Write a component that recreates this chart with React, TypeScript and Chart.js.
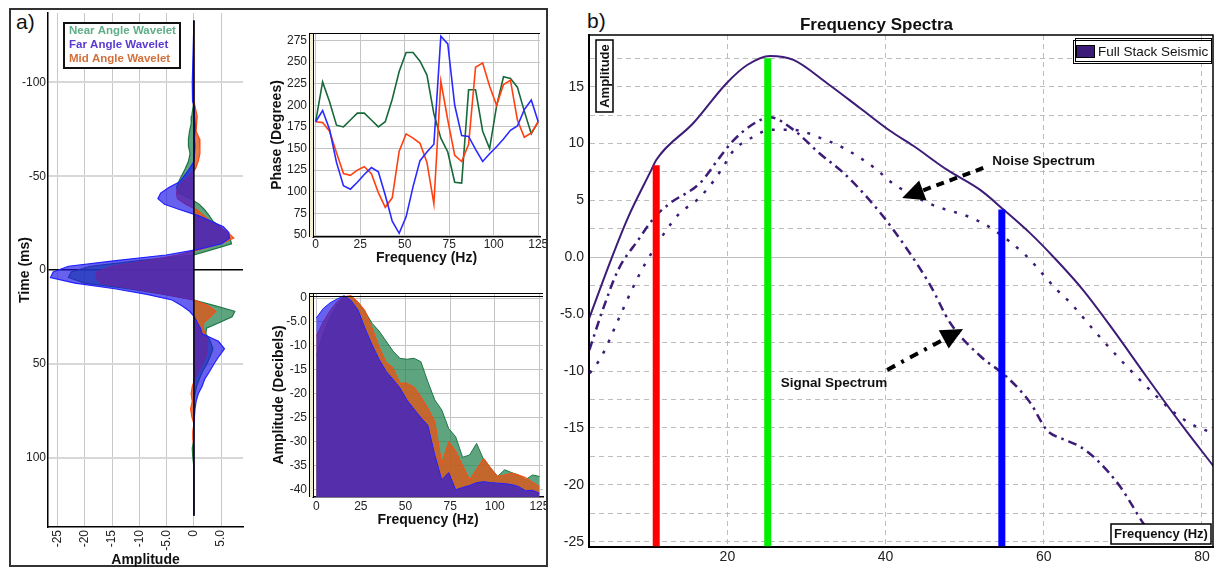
import React, { useEffect, useRef } from 'react';
import { Chart, registerables } from 'chart.js';

Chart.register(...registerables);

const FONT = '"Liberation Sans", Arial, Helvetica, sans-serif';

// ---------- a) wavelets (time in ms, amplitude) ----------
const WAVELET_TIME = [-133, -100, -95, -90, -86, -82, -78, -74, -70, -66, -62, -58, -54, -50, -47, -44, -41, -38, -35, -32, -29, -26, -23, -20, -17, -14, -11, -8, -5, -2, 1, 4, 7, 10, 13, 16, 19, 22, 25, 28, 31, 34, 38, 42, 46, 50, 54, 58, 62, 66, 70, 74, 78, 82, 86, 90, 95, 100, 105, 131];
const NEAR_WAVELET = [0, 0, 0, 0, -0.2, -0.4, -0.5, -0.8, -1.0, -1.0, -0.7, -1.0, -1.6, -2.3, -2.8, -3.2, -2.8, -0.6, 1.0, 2.0, 2.8, 3.5, 4.8, 5.8, 6.6, 6.9, 3.5, 0, -10, -19, -22.5, -23, -20, -12, -5.5, 0, 3.8, 7.5, 7.0, 4.7, 2.3, 2.2, 3.0, 3.5, 3.0, 2.4, 1.6, 1.0, 0.5, 0.2, 0, 0, 0, 0, 0, 0, -0.3, -0.2, 0, 0];
const FAR_WAVELET = [0, -0.3, -0.3, -0.2, 0.1, 0.1, 0.2, 0.2, 0.1, 0.2, 0.1, 0, -0.8, -1.8, -2.6, -4.6, -6.1, -6.6, -5.4, -2.4, 0.8, 3.2, 5.4, 6.4, 6.5, 5.1, 0.8, -5.1, -14.3, -23, -25.8, -26.3, -21.8, -14.5, -8.6, -4.0, -2.2, -0.8, 0.1, 0.6, 1.2, 1.5, 4.5, 5.6, 4.6, 3.7, 2.9, 2.0, 1.5, 0.8, 0.4, 0.2, 0.1, 0, 0, 0, 0, 0, 0, 0];
const MID_WAVELET = [0, 0, 0, 0, 0.3, 0.6, 0.5, 0.4, 1.0, 1.1, 1.1, 0.8, 0.3, -0.8, -2.0, -3.0, -3.2, -3.0, -1.5, 0.6, 1.8, 3.0, 4.6, 6.2, 7.3, 4.9, 1.2, -3, -8.5, -15, -17.8, -18, -17, -11, -5, 0, 2.5, 4.0, 3.0, 1.8, 1.7, 2.0, 2.5, 2.5, 2.2, 1.6, 0.8, 0.2, -0.3, -0.5, -0.3, -0.6, -0.4, 0, -0.2, -0.2, 0, 0, 0, 0];
const ZERO_LINE_TIME = [-133, 131];
const WAVELET_LEGEND = ['Near Angle Wavelet', 'Far Angle Wavelet', 'Mid Angle Wavelet'];

// ---------- a) phase and amplitude spectra ----------
const FREQ = [0, 3.9, 7.8, 11.7, 15.6, 19.5, 23.4, 27.3, 31.3, 35.2, 39.1, 43.0, 46.9, 50.8, 54.7, 58.6, 62.5, 66.4, 70.3, 74.2, 78.1, 82.0, 85.9, 89.8, 93.8, 97.7, 101.6, 105.5, 109.4, 113.3, 117.2, 121.1, 125.0];
const NEAR_PHASE = [181, 227, 204, 177, 175, 183, 191, 191, 183, 175, 181, 207, 239, 261, 261, 251, 235, 190, 162, 146, 111, 110, 218, 218, 170, 150, 199, 233, 231, 221, 193, 167, 181];
const MID_PHASE = [181, 180, 170, 145, 121, 119, 125, 129, 121, 99, 82, 93, 147, 167, 162, 156, 134, 86, 228, 183, 142, 135, 155, 244, 249, 222, 200, 224, 229, 183, 163, 168, 181];
const FAR_PHASE = [181, 194, 172, 134, 107, 103, 111, 120, 128, 123, 96, 66, 52, 71, 106, 136, 146, 155, 280, 271, 200, 165, 164, 149, 135, 144, 152, 161, 171, 176, 195, 206, 181];
const NEAR_DB = [-12.0, -7.5, -4.0, -1.5, 0.2, 0.3, -1.0, -2.8, -5.3, -6.9, -9.0, -11.1, -12.6, -12.8, -12.6, -13.3, -17.5, -21.3, -23.4, -27.3, -29.0, -33.3, -32.8, -30.4, -33.8, -35.6, -37.3, -35.9, -36.5, -37.0, -38.0, -37.0, -37.3];
const MID_DB = [-8.0, -5.0, -2.6, -0.8, 0.3, 0.5, -0.8, -2.6, -6.3, -10.2, -13.4, -14.6, -17.8, -17.8, -18.6, -20.6, -23.0, -25.8, -34.6, -30.0, -32.0, -35.0, -38.0, -35.8, -33.5, -35.5, -37.3, -37.0, -36.6, -37.0, -37.5, -38.5, -39.4];
const FAR_DB = [-4.2, -2.2, -1.0, -0.2, 0.5, -0.5, -2.5, -6.3, -9.8, -12.8, -15.3, -17.0, -18.8, -21.3, -23.2, -25.0, -26.6, -32.8, -38.0, -36.5, -40.1, -39.6, -39.2, -38.6, -38.4, -38.6, -38.7, -38.8, -39.0, -39.4, -40.3, -40.2, -40.8];

// ---------- b) frequency spectra ----------
const FULL_FREQ = [2.5, 5.4, 7.5, 10.4, 11.0, 15.7, 19.9, 22.5, 25.4, 28.35, 32.6, 36.8, 40.6, 43.5, 47.75, 52.0, 54.9, 58.3, 61.2, 65.0, 68.8, 73.0, 77.3, 81.5];
const FULL_AMP = [-5.4, 0.0, 3.6, 7.7, 8.55, 11.8, 15.3, 16.9, 17.7, 17.35, 15.3, 13.1, 11.1, 9.8, 7.7, 5.9, 4.2, 2.1, 0.05, -2.9, -6.4, -10.5, -14.6, -18.4];
const SIGNAL_FREQ = [2.55, 4.1, 6.2, 8.7, 10.85, 12.75, 16.5, 19.1, 20.8, 23.7, 25.4, 28.35, 31.7, 34.7, 38.0, 41.0, 45.6, 48.2, 52.0, 55.3, 58.3, 60.4, 62.5, 64.6, 66.7, 69.7, 72.6, 75.4];
const SIGNAL_AMP = [-8.15, -4.9, -1.1, 1.5, 3.57, 4.75, 6.5, 8.85, 10.3, 11.9, 12.3, 11.2, 9.1, 7.4, 5.0, 2.4, -2.4, -5.8, -8.7, -10.5, -12.8, -15.2, -16.0, -16.65, -17.8, -20.2, -23.4, -26.0];
const NOISE_FREQ = [2.6, 4.1, 6.2, 8.3, 9.5, 12.3, 14.0, 16.1, 18.2, 19.5, 20.8, 23.3, 25.4, 28.35, 31.7, 34.7, 38.9, 40.6, 45.6, 51.1, 53.7, 57.9, 59.6, 61.7, 63.35, 66.7, 70.5, 74.3, 76.4, 78.5, 81.5];
const NOISE_AMP = [-10.2, -8.7, -5.5, -2.3, -0.7, 2.4, 3.9, 5.0, 6.65, 8.0, 9.4, 10.6, 11.2, 11.2, 10.5, 9.6, 7.7, 6.65, 4.7, 3.4, 2.4, 0.05, -1.26, -2.9, -4.0, -6.7, -9.6, -12.25, -13.6, -14.6, -15.5];
const BAR_FREQ = [11.0, 25.1, 54.7];
const BAR_TOP = [8.1, 17.5, 4.2];
const BAR_BASE = -26;
const BAR_COLORS = ['#ff0000', '#00ee00', '#0000ff'];
const SPECTRA_LABELS = ['Full Stack Seismic', 'Signal Spectrum', 'Noise Spectrum'];
// annotation anchors in data units (frequency, amplitude)
const NOISE_ARROW = { from: [52.35, 7.85], to: [42.1, 5.2], text: [53.5, 8.4] };
const SIGNAL_ARROW = { from: [40.2, -9.9], to: [49.8, -6.3], text: [40.2, -11.1] };

// colours
const NEAR_LINE = '#1e7544';
const NEAR_FILL = 'rgba(40,134,84,0.75)';
const MID_LINE = '#ff4a10';
const MID_FILL = 'rgba(226,86,24,0.78)';
const FAR_LINE = '#2020ff';
const FAR_FILL = 'rgba(32,22,232,0.68)';
const LEGEND_COLORS = ['#5fae88', '#5a3ad0', '#d2703c'];
const SPECTRA_COLOR = '#3d1c78';

const tickFont = (size: number) => ({ family: FONT, size });
const titleFont = (size: number) => ({ family: FONT, size, weight: 'bold' as const });

const fitX = (h: number) => (s: any) => { s.height = h; s.paddingLeft = 0; s.paddingRight = 0; };
const fitY = (w: number) => (s: any) => { s.width = w; s.paddingTop = 0; s.paddingBottom = 0; };

function ChartBox({ x, y, w, h, make }: { x: number; y: number; w: number; h: number; make: () => any }) {
  const ref = useRef<HTMLCanvasElement>(null);
  useEffect(() => {
    const chart = new Chart(ref.current as HTMLCanvasElement, make());
    return () => chart.destroy();
  }, []);
  return <canvas ref={ref} width={w} height={h} style={{ position: 'absolute', left: x, top: y, width: w, height: h }} />;
}

const waveletLegend = {
  id: 'waveletLegend',
  afterDraw(chart: any) {
    const { ctx, chartArea: a } = chart;
    const bx = a.left + 16, by = a.top + 10, bw = 116, bh = 45;
    ctx.save();
    ctx.fillStyle = '#fff';
    ctx.fillRect(bx, by, bw, bh);
    ctx.strokeStyle = '#111';
    ctx.lineWidth = 2;
    ctx.strokeRect(bx, by, bw, bh);
    ctx.font = `bold 11.5px ${FONT}`;
    ctx.textBaseline = 'middle';
    WAVELET_LEGEND.forEach((t, i) => {
      ctx.fillStyle = LEGEND_COLORS[i];
      ctx.fillText(t, bx + 5, by + 8 + i * 14);
    });
    ctx.restore();
  },
};

const leftDouble = (offsets: number[]) => ({
  id: 'leftDouble',
  afterDraw(chart: any) {
    const { ctx, chartArea: a } = chart;
    ctx.save();
    ctx.fillStyle = '#f3f0d2';
    ctx.fillRect(a.left - 3, a.top, 3, a.bottom - a.top);
    ctx.strokeStyle = '#000';
    ctx.lineWidth = 1;
    ctx.beginPath();
    ctx.moveTo(a.left - 3.5, a.top);
    ctx.lineTo(a.left - 3.5, a.bottom);
    ctx.stroke();
    offsets.forEach((o) => {
      ctx.beginPath();
      ctx.moveTo(a.left - 4, a.top + o + 0.5);
      ctx.lineTo(a.right, a.top + o + 0.5);
      ctx.stroke();
    });
    ctx.restore();
  },
});

function waveletConfig() {
  const pts = (vals: number[]) => WAVELET_TIME.map((t, i) => ({ x: vals[i], y: t }));
  return {
    type: 'line',
    data: {
      datasets: [
        { label: 'zero', data: ZERO_LINE_TIME.map((t) => ({ x: 0, y: t })), borderColor: '#000', borderWidth: 1.5, pointRadius: 0, fill: false, order: 0 },
        { label: WAVELET_LEGEND[1], data: pts(FAR_WAVELET), borderColor: FAR_LINE, backgroundColor: FAR_FILL, borderWidth: 1.2, pointRadius: 0, fill: 'origin', order: 1 },
        { label: WAVELET_LEGEND[2], data: pts(MID_WAVELET), borderColor: MID_LINE, backgroundColor: MID_FILL, borderWidth: 1.2, pointRadius: 0, fill: 'origin', order: 2 },
        { label: WAVELET_LEGEND[0], data: pts(NEAR_WAVELET), borderColor: NEAR_LINE, backgroundColor: NEAR_FILL, borderWidth: 1.2, pointRadius: 0, fill: 'origin', order: 3 },
      ],
    },
    options: {
      indexAxis: 'y',
      animation: false,
      responsive: false,
      events: [],
      layout: { padding: { left: 0, right: 17, top: 5, bottom: 0 } },
      plugins: { legend: { display: false }, tooltip: { enabled: false } },
      scales: {
        x: {
          type: 'linear', min: -26.75, max: 9,
          ticks: { stepSize: 5, includeBounds: false, autoSkip: false, minRotation: 90, maxRotation: 90, padding: 3, color: '#222', font: tickFont(12),
            callback: (v: number) => (Math.abs(v) === 5 ? v.toFixed(1) : String(v)) },
          grid: { color: '#c8c8c8', lineWidth: 1, drawTicks: false },
          border: { color: '#000', width: 1.5 },
          title: { display: true, text: 'Amplitude', color: '#111', font: titleFont(14), padding: { top: 0, bottom: 0 } },
          afterFit: fitX(42),
        },
        y: {
          type: 'linear', reverse: true, min: -137, max: 137,
          ticks: { stepSize: 50, includeBounds: false, padding: 2, color: '#222', font: tickFont(12) },
          grid: { color: (c: any) => (c.tick && c.tick.value === 0 ? '#000' : '#d8d8d8'), lineWidth: (c: any) => (c.tick && c.tick.value === 0 ? 1.5 : 2), drawTicks: false },
          border: { color: '#000', width: 1.5 },
          title: { display: true, text: 'Time (ms)', color: '#111', font: titleFont(14), padding: { top: 7, bottom: 0 } },
          afterFit: fitY(38),
        },
      },
    },
    plugins: [waveletLegend],
  };
}

function phaseConfig() {
  const pts = (vals: number[]) => FREQ.map((f, i) => ({ x: f, y: vals[i] }));
  const ds = (vals: number[], color: string) => ({ data: pts(vals), borderColor: color, borderWidth: 1.6, pointRadius: 0, fill: false, tension: 0 });
  return {
    type: 'line',
    data: { datasets: [ds(FAR_PHASE, '#2a2aff'), ds(MID_PHASE, '#ff4010'), ds(NEAR_PHASE, '#17693a')] },
    options: {
      animation: false, responsive: false, events: [],
      layout: { padding: { left: 0, right: 6, top: 8, bottom: 0 } },
      plugins: { legend: { display: false }, tooltip: { enabled: false } },
      scales: {
        x: {
          type: 'linear', min: -1.5, max: 126,
          ticks: { stepSize: 25, includeBounds: false, padding: 0, color: '#222', font: tickFont(12), maxRotation: 0 },
          grid: { color: '#c4c4c4', lineWidth: 1, drawTicks: false },
          border: { color: '#000', width: 1.5 },
          title: { display: true, text: 'Frequency (Hz)', color: '#111', font: titleFont(14), padding: { top: 0, bottom: 3 } },
          afterFit: fitX(33),
        },
        y: {
          type: 'linear', min: 47.7, max: 283.6,
          ticks: { stepSize: 25, includeBounds: false, padding: 6, color: '#222', font: tickFont(12) },
          grid: { color: '#c4c4c4', lineWidth: 1, drawTicks: false },
          border: { color: '#000', width: 1 },
          title: { display: true, text: 'Phase (Degrees)', color: '#111', font: titleFont(14), padding: { top: 7, bottom: 0 } },
          afterFit: fitY(51),
        },
      },
    },
    plugins: [leftDouble([0])],
  };
}

function ampConfig() {
  const pts = (vals: number[]) => FREQ.map((f, i) => ({ x: f, y: vals[i] }));
  return {
    type: 'line',
    data: {
      datasets: [
        { data: pts(FAR_DB), borderColor: FAR_LINE, backgroundColor: FAR_FILL, borderWidth: 1, pointRadius: 0, fill: 'start', order: 1 },
        { data: pts(MID_DB), borderColor: MID_LINE, backgroundColor: MID_FILL, borderWidth: 1, pointRadius: 0, fill: 'start', order: 2 },
        { data: pts(NEAR_DB), borderColor: NEAR_LINE, backgroundColor: NEAR_FILL, borderWidth: 1, pointRadius: 0, fill: 'start', order: 3 },
      ],
    },
    options: {
      animation: false, responsive: false, events: [],
      layout: { padding: { left: 0, right: 3, top: 8, bottom: 0 } },
      plugins: { legend: { display: false }, tooltip: { enabled: false } },
      scales: {
        x: {
          type: 'linear', min: -1.8, max: 127,
          ticks: { stepSize: 25, includeBounds: false, padding: 2, color: '#222', font: tickFont(12), maxRotation: 0 },
          grid: { color: '#c4c4c4', lineWidth: 1, drawTicks: false },
          border: { color: '#000', width: 1.5 },
          title: { display: true, text: 'Frequency (Hz)', color: '#111', font: titleFont(14), padding: { top: 0, bottom: 1 } },
          afterFit: fitX(33),
        },
        y: {
          type: 'linear', min: -41.6, max: 1.05,
          ticks: { stepSize: 5, includeBounds: false, padding: 6, color: '#222', font: tickFont(12),
            callback: (v: number) => (v === -5 ? '-5.0' : String(v)) },
          grid: { color: '#c4c4c4', lineWidth: 1, drawTicks: false },
          border: { color: '#000', width: 1 },
          title: { display: true, text: 'Amplitude (Decibels)', color: '#111', font: titleFont(14), padding: { top: 9, bottom: 0 } },
          afterFit: fitY(51),
        },
      },
    },
    plugins: [leftDouble([0, 3])],
  };
}

function drawArrow(ctx: CanvasRenderingContext2D, x1: number, y1: number, x2: number, y2: number, dash: number[]) {
  const ang = Math.atan2(y2 - y1, x2 - x1);
  const len = 22, half = 10.5;
  const bx = x2 - len * Math.cos(ang), by = y2 - len * Math.sin(ang);
  ctx.save();
  ctx.strokeStyle = '#000';
  ctx.fillStyle = '#000';
  ctx.lineWidth = 4;
  ctx.setLineDash(dash);
  ctx.beginPath();
  ctx.moveTo(x1, y1);
  ctx.lineTo(bx, by);
  ctx.stroke();
  ctx.setLineDash([]);
  ctx.beginPath();
  ctx.moveTo(x2, y2);
  ctx.lineTo(bx + half * Math.sin(ang), by - half * Math.cos(ang));
  ctx.lineTo(bx - half * Math.sin(ang), by + half * Math.cos(ang));
  ctx.closePath();
  ctx.fill();
  ctx.restore();
}

const spectraDecor = {
  id: 'spectraDecor',
  afterDraw(chart: any) {
    const { ctx, chartArea: a, scales } = chart;
    const px = (f: number) => scales.x.getPixelForValue(f);
    const py = (v: number) => scales.y.getPixelForValue(v);
    ctx.save();
    // frame
    ctx.strokeStyle = '#000';
    ctx.lineWidth = 1.5;
    ctx.strokeRect(a.left, a.top, a.right - a.left, a.bottom - a.top);
    // legend
    const lx = a.right - 140, ly = a.top + 5, lw = 138, lh = 23;
    ctx.fillStyle = '#fff';
    ctx.fillRect(lx, ly, lw, lh);
    ctx.lineWidth = 1;
    ctx.strokeStyle = '#000';
    ctx.strokeRect(lx + 0.5, ly + 0.5, lw, lh);
    ctx.strokeRect(lx + 2.5, ly - 1.5, lw - 2, lh);
    ctx.fillStyle = SPECTRA_COLOR;
    ctx.fillRect(lx + 3, ly + 5, 18, 12);
    ctx.strokeRect(lx + 3.5, ly + 5.5, 18, 12);
    ctx.fillStyle = '#111';
    ctx.font = `13.5px ${FONT}`;
    ctx.textBaseline = 'middle';
    ctx.textAlign = 'left';
    ctx.fillText(SPECTRA_LABELS[0], lx + 25, ly + 12);
    // axis boxes
    ctx.lineWidth = 1.5;
    ctx.fillStyle = '#fff';
    ctx.fillRect(a.left + 7, a.top + 5, 17, 72);
    ctx.strokeRect(a.left + 7, a.top + 5, 17, 72);
    ctx.save();
    ctx.translate(a.left + 16, a.top + 41);
    ctx.rotate(-Math.PI / 2);
    ctx.fillStyle = '#111';
    ctx.font = `bold 13px ${FONT}`;
    ctx.textAlign = 'center';
    ctx.fillText('Amplitude', 0, 0);
    ctx.restore();
    ctx.fillStyle = '#fff';
    ctx.fillRect(a.right - 102, a.bottom - 23, 100, 20);
    ctx.strokeRect(a.right - 102, a.bottom - 23, 100, 20);
    ctx.fillStyle = '#111';
    ctx.font = `bold 13px ${FONT}`;
    ctx.textAlign = 'center';
    ctx.fillText('Frequency (Hz)', a.right - 52, a.bottom - 12.5);
    // arrows and their texts
    drawArrow(ctx, px(NOISE_ARROW.from[0]), py(NOISE_ARROW.from[1]), px(NOISE_ARROW.to[0]), py(NOISE_ARROW.to[1]), [8, 6]);
    drawArrow(ctx, px(SIGNAL_ARROW.from[0]), py(SIGNAL_ARROW.from[1]), px(SIGNAL_ARROW.to[0]), py(SIGNAL_ARROW.to[1]), [9, 7, 3, 7]);
    ctx.fillStyle = '#111';
    ctx.font = `bold 13.5px ${FONT}`;
    ctx.textAlign = 'left';
    ctx.fillText(SPECTRA_LABELS[2], px(NOISE_ARROW.text[0]), py(NOISE_ARROW.text[1]));
    ctx.textAlign = 'right';
    ctx.fillText(SPECTRA_LABELS[1], px(SIGNAL_ARROW.text[0]), py(SIGNAL_ARROW.text[1]));
    ctx.restore();
  },
};

function spectraConfig() {
  const pts = (fs: number[], vs: number[]) => fs.map((f, i) => ({ x: f, y: vs[i] }));
  const bars = BAR_FREQ.map((f, i) => ({
    data: [{ x: f, y: BAR_BASE }, { x: f, y: BAR_TOP[i] }], borderColor: BAR_COLORS[i], borderWidth: 7, pointRadius: 0, fill: false, clip: 0, order: 0,
  }));
  return {
    type: 'line',
    data: {
      datasets: [
        ...bars,
        { label: SPECTRA_LABELS[0], data: pts(FULL_FREQ, FULL_AMP), borderColor: SPECTRA_COLOR, borderWidth: 2, pointRadius: 0, fill: false, cubicInterpolationMode: 'monotone', order: 1 },
        { label: SPECTRA_LABELS[1], data: pts(SIGNAL_FREQ, SIGNAL_AMP), borderColor: SPECTRA_COLOR, borderWidth: 2.5, borderDash: [9, 5, 2.5, 5], pointRadius: 0, fill: false, cubicInterpolationMode: 'monotone', order: 2 },
        { label: SPECTRA_LABELS[2], data: pts(NOISE_FREQ, NOISE_AMP), borderColor: SPECTRA_COLOR, borderWidth: 2.5, borderDash: [3, 9], pointRadius: 0, fill: false, cubicInterpolationMode: 'monotone', order: 3 },
      ],
    },
    options: {
      animation: false, responsive: false, events: [],
      layout: { padding: { left: 0, right: 3, top: 0, bottom: 0 } },
      plugins: {
        legend: { display: false }, tooltip: { enabled: false },
        title: { display: true, text: 'Frequency Spectra', color: '#111', font: { family: FONT, size: 17, weight: 'bold', lineHeight: 1 }, padding: { top: 17, bottom: 1 } },
      },
      scales: {
        x: {
          type: 'linear', min: 2.5, max: 81.4,
          ticks: { stepSize: 20, includeBounds: false, padding: 2, color: '#222', font: tickFont(14), maxRotation: 0 },
          grid: { color: '#bdbdbd', lineWidth: 1, drawTicks: false },
          border: { color: '#000', width: 2, dash: [5, 4] },
          afterFit: fitX(23),
        },
        y: {
          type: 'linear', min: -25.47, max: 19.54,
          ticks: { stepSize: 2.5, includeBounds: false, padding: 5, color: '#222', font: tickFont(14),
            callback: (v: number) => {
              if (Math.abs(v % 5) > 1e-6) return '';
              if (v === 0) return '0.0';
              if (v === -5) return '-5.0';
              return String(v);
            } },
          grid: { color: '#bdbdbd', lineWidth: 1, drawTicks: false },
          border: { color: '#000', width: 2, dash: (c: any) => (c.tick && c.tick.value === 0 ? [] : [5, 4]) },
          afterFit: fitY(49),
        },
      },
    },
    plugins: [spectraDecor],
  };
}

export default function App() {
  return (
    <div style={{ position: 'fixed', left: 0, top: 0, width: 1216, height: 570, background: '#fff', overflow: 'hidden', fontFamily: FONT }}>
      <div style={{ position: 'absolute', left: 9, top: 8, width: 539, height: 559, border: '2px solid #333', boxSizing: 'border-box' }} />
      <div style={{ position: 'absolute', left: 16, top: 11, fontSize: 21, lineHeight: '21px', color: '#111' }}>a)</div>
      <div style={{ position: 'absolute', left: 587, top: 10, fontSize: 21, lineHeight: '21px', color: '#111' }}>b)</div>
      <ChartBox x={10} y={8} w={250} h={561} make={waveletConfig} />
      <ChartBox x={262} y={25} w={284} h={245} make={phaseConfig} />
      <ChartBox x={262} y={285} w={284} h={245} make={ampConfig} />
      <ChartBox x={540} y={0} w={676} h={570} make={spectraConfig} />
    </div>
  );
}
